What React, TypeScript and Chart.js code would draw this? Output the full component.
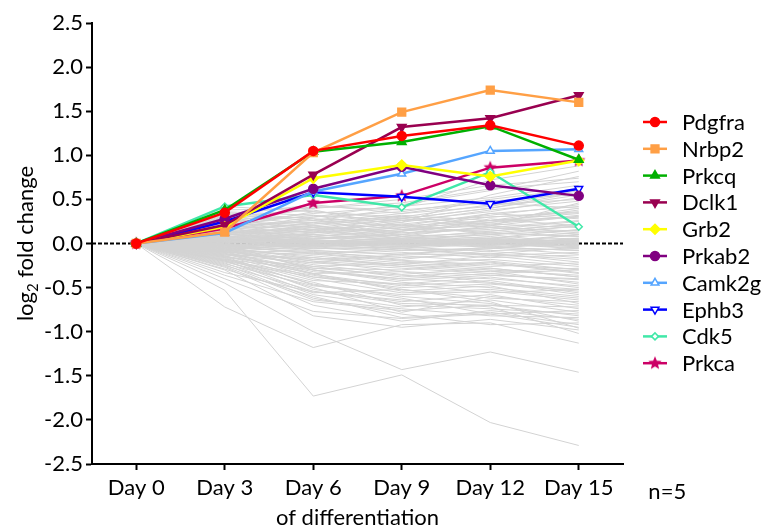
import React, { useEffect, useRef } from 'react';
import { Chart, registerables } from 'chart.js';
import { drawPoint } from 'chart.js/helpers';

Chart.register(...registerables);

const days = ['Day 0', 'Day 3', 'Day 6', 'Day 9', 'Day 12', 'Day 15'];
const geneNames = ['Pdgfra', 'Nrbp2', 'Prkcq', 'Dclk1', 'Grb2', 'Prkab2', 'Camk2g', 'Ephb3', 'Cdk5', 'Prkca'];

const pdgfra = [0, 0.35, 1.05, 1.22, 1.34, 1.11];
const nrbp2 = [0, 0.13, 1.03, 1.49, 1.74, 1.6];
const prkcq = [0, 0.38, 1.04, 1.15, 1.33, 0.95];
const dclk1 = [0, 0.21, 0.78, 1.32, 1.42, 1.68];
const grb2 = [0, 0.19, 0.74, 0.89, 0.76, 0.94];
const prkab2 = [0, 0.28, 0.62, 0.87, 0.66, 0.54];
const camk2g = [0, 0.12, 0.59, 0.79, 1.05, 1.07];
const ephb3 = [0, 0.25, 0.58, 0.53, 0.45, 0.62];
const cdk5 = [0, 0.42, 0.55, 0.41, 0.81, 0.19];
const prkca = [0, 0.17, 0.46, 0.54, 0.86, 0.94];

const backgroundGenes: number[][] = [
  [0, -0.53, -1.73, -1.49, -2.03, -2.29],
  [0, -0.72, -1.18, -0.92, -0.9, -1.13],
  [0, -0.45, -1.0, -1.43, -1.23, -1.46],
  [0, -0.4, -0.77, -0.85, -0.8, -0.95],
  [0, -0.33, -0.55, -0.64, -0.72, -1.02],
  [0, -0.3, -0.82, -0.95, -0.86, -0.98],
  [0, -0.27, -0.7, -0.88, -0.76, -0.86],
  [0, -0.24, -0.62, -0.8, -0.92, -0.9],
  [0, -0.22, -0.58, -0.72, -0.64, -0.78],
  [0, -0.2, -0.5, -0.78, -0.6, -0.7],
  [0, -0.18, -0.46, -0.6, -0.68, -0.88],
  [0, -0.26, -0.64, -0.74, -0.82, -0.84],
  [0, -0.16, -0.52, -0.66, -0.58, -0.74],
  [0, -0.21, -0.44, -0.7, -0.74, -0.8],
  [0, -0.14, -0.4, -0.56, -0.52, -0.62],
  [0, -0.19, -0.36, -0.52, -0.62, -0.66],
  [0, -0.12, -0.35, -0.48, -0.42, -0.56],
  [0, -0.1, -0.3, -0.44, -0.5, -0.6],
  [0, -0.17, -0.42, -0.46, -0.38, -0.5],
  [0, -0.08, -0.26, -0.38, -0.31, -0.46],
  [0, -0.06, -0.2, -0.32, -0.36, -0.41],
  [0, -0.11, -0.32, -0.4, -0.45, -0.52],
  [0, -0.05, -0.16, -0.26, -0.21, -0.33],
  [0, -0.03, -0.11, -0.19, -0.24, -0.29],
  [0, -0.09, -0.24, -0.35, -0.28, -0.38],
  [0, -0.02, -0.08, -0.13, -0.11, -0.21],
  [0, 0.0, -0.05, -0.1, -0.16, -0.13],
  [0, -0.13, -0.22, -0.28, -0.34, -0.44],
  [0, -0.07, -0.14, -0.22, -0.18, -0.26],
  [0, -0.04, -0.18, -0.24, -0.3, -0.36],
  [0, -0.15, -0.28, -0.36, -0.4, -0.48],
  [0, -0.01, -0.04, -0.08, -0.05, -0.12],
  [0, -0.1, -0.12, -0.2, -0.26, -0.22],
  [0, -0.06, -0.28, -0.3, -0.22, -0.34],
  [0, -0.12, -0.18, -0.14, -0.2, -0.3],
  [0, -0.08, -0.1, -0.16, -0.12, -0.18],
  [0, -0.18, -0.3, -0.42, -0.36, -0.4],
  [0, -0.04, -0.06, -0.04, -0.09, -0.16],
  [0, -0.14, -0.34, -0.32, -0.44, -0.58],
  [0, -0.02, -0.12, -0.06, -0.14, -0.1],
  [0, -0.2, -0.38, -0.5, -0.46, -0.54],
  [0, -0.09, -0.2, -0.26, -0.32, -0.28],
  [0, -0.05, -0.09, -0.18, -0.08, -0.06],
  [0, -0.16, -0.26, -0.22, -0.28, -0.38],
  [0, -0.11, -0.38, -0.46, -0.56, -0.52],
  [0, -0.23, -0.48, -0.58, -0.54, -0.64],
  [0, -0.07, -0.22, -0.12, -0.04, -0.08],
  [0, -0.13, -0.16, -0.24, -0.14, -0.24],
  [0, -0.03, -0.02, -0.06, -0.12, -0.04],
  [0, -0.25, -0.54, -0.68, -0.7, -0.72],
  [0, -0.29, -0.6, -0.84, -0.78, -0.92],
  [0, -0.15, -0.47, -0.62, -0.8, -0.76],
  [0, -0.09, -0.34, -0.54, -0.48, -0.68],
  [0, -0.36, -0.66, -0.76, -0.7, -0.82],
  [0, -0.01, -0.3, -0.4, -0.34, -0.3],
  [0, -0.19, -0.56, -0.52, -0.66, -0.96],
  [0, 0.42, 0.36, 0.3, 0.44, 0.5],
  [0, 0.38, 0.4, 0.46, 0.62, 0.7],
  [0, 0.33, 0.26, 0.4, 0.72, 0.88],
  [0, 0.3, 0.38, 0.2, 0.34, 0.42],
  [0, 0.27, 0.3, 0.36, 0.5, 0.62],
  [0, 0.24, 0.18, 0.28, 0.4, 0.55],
  [0, 0.21, 0.32, 0.16, 0.26, 0.3],
  [0, 0.18, 0.12, 0.24, 0.55, 0.76],
  [0, 0.16, 0.22, 0.31, 0.2, 0.46],
  [0, 0.13, 0.1, 0.18, 0.3, 0.35],
  [0, 0.11, 0.2, 0.12, 0.16, 0.25],
  [0, 0.08, 0.05, 0.1, 0.28, 0.2],
  [0, 0.06, 0.15, 0.22, 0.1, 0.15],
  [0, 0.03, 0.0, 0.08, 0.2, 0.31],
  [0, 0.02, 0.1, 0.05, 0.0, 0.1],
  [0, 0.35, 0.28, 0.24, 0.38, 0.48],
  [0, 0.26, 0.42, 0.38, 0.46, 0.4],
  [0, 0.22, 0.08, 0.14, 0.22, 0.18],
  [0, 0.19, 0.26, 0.2, 0.12, 0.08],
  [0, 0.14, 0.04, 0.0, 0.06, 0.12],
  [0, 0.1, 0.14, 0.26, 0.36, 0.52],
  [0, 0.07, 0.18, 0.14, 0.24, 0.38],
  [0, 0.05, 0.02, -0.02, 0.04, 0.06],
  [0, 0.04, 0.08, 0.16, 0.14, 0.22],
  [0, 0.12, 0.24, 0.34, 0.42, 0.6],
  [0, 0.28, 0.2, 0.1, 0.18, 0.26],
  [0, 0.17, 0.06, 0.04, -0.02, 0.02],
  [0, 0.09, -0.04, 0.02, 0.08, -0.02],
  [0, 0.23, 0.34, 0.42, 0.52, 0.66],
  [0, 0.31, 0.22, 0.32, 0.26, 0.34],
  [0, 0.01, 0.06, 0.12, 0.18, 0.14],
  [0, 0.15, 0.28, 0.08, 0.12, 0.2],
  [0, 0.2, 0.16, 0.22, 0.32, 0.44],
  [0, 0.06, -0.06, -0.04, 0.02, 0.04],
  [0, 0.11, 0.02, 0.06, 0.1, 0.0],
  [0, 0.25, 0.12, 0.18, 0.24, 0.3],
  [0, 0.36, 0.32, 0.26, 0.3, 0.36],
  [0, 0.04, 0.12, 0.2, 0.26, 0.4],
  [0, 0.18, 0.36, 0.28, 0.4, 0.58],
  [0, 0.13, 0.0, -0.08, -0.06, 0.04],
  [0, 0.08, 0.1, 0.04, -0.04, -0.08],
  [0, 0.29, 0.14, 0.06, 0.14, 0.22],
  [0, 0.03, 0.04, 0.02, 0.12, 0.08],
  [0, 0.21, 0.24, 0.16, 0.2, 0.12],
  [0, 0.16, 0.3, 0.44, 0.6, 0.82],
  [0, 0.1, 0.06, 0.1, 0.06, 0.16],
  [0, 0.07, 0.0, 0.14, 0.34, 0.28],
  [0, 0.32, 0.44, 0.34, 0.48, 0.56],
  [0, 0.19, 0.02, -0.06, 0.0, -0.06],
  [0, 0.02, -0.02, 0.04, 0.1, 0.2],
  [0, 0.14, 0.16, 0.28, 0.18, 0.1],
  [0, 0.24, 0.4, 0.5, 0.66, 0.74],
  [0, 0.05, -0.08, -0.12, -0.06, 0.02],
  [0, 0.27, 0.18, 0.08, 0.02, 0.1],
  [0, 0.12, 0.16, 0.06, 0.04, -0.04],
  [0, 0.09, 0.2, 0.3, 0.22, 0.32],
  [0, 0.04, 0.01, -0.01, 0.03, -0.03],
  [0, -0.03, 0.02, 0.01, -0.02, 0.03],
  [0, 0.06, -0.01, 0.03, -0.01, 0.01],
  [0, -0.05, 0.03, -0.02, 0.02, -0.01],
  [0, 0.02, -0.03, 0.0, 0.04, 0.02],
  [0, -0.01, 0.01, 0.03, -0.03, -0.02],
  [0, 0.08, 0.03, -0.01, 0.01, 0.05],
  [0, -0.07, -0.01, 0.02, 0.0, -0.05],
  [0, 0.01, -0.02, -0.03, 0.02, 0.0],
  [0, 0.05, 0.04, 0.01, -0.02, 0.03],
  [0, -0.04, 0.0, 0.02, 0.05, -0.01],
  [0, 0.03, 0.02, -0.04, 0.0, -0.02],
  [0, -0.02, -0.04, 0.01, 0.03, 0.01],
  [0, 0.07, 0.01, 0.04, 0.02, -0.04],
  [0, -0.06, 0.02, -0.01, -0.04, 0.02],
  [0, 0.0, 0.03, 0.02, 0.01, 0.04],
  [0, 0.15, 0.08, 0.02, -0.01, 0.06],
  [0, -0.1, -0.02, 0.01, 0.04, 0.0],
  [0, 0.12, -0.01, -0.03, 0.02, -0.01],
  [0, -0.08, 0.01, 0.03, 0.06, 0.02],
];

const FONT = 'Lato, "Open Sans", sans-serif';
const FONT_SIZE = 22;

function makeStar(color: string, r: number): HTMLCanvasElement {
  const c = document.createElement('canvas');
  const s = Math.ceil(r * 2 + 2);
  c.width = s;
  c.height = s;
  const g = c.getContext('2d')!;
  g.fillStyle = color;
  g.beginPath();
  for (let i = 0; i < 10; i++) {
    const rad = i % 2 === 0 ? r : r * 0.45;
    const a = -Math.PI / 2 + (i * Math.PI) / 5;
    const x = s / 2 + rad * Math.cos(a);
    const y = s / 2 + rad * Math.sin(a);
    if (i === 0) g.moveTo(x, y);
    else g.lineTo(x, y);
  }
  g.closePath();
  g.fill();
  return c;
}

export default function App() {
  const ref = useRef<HTMLCanvasElement | null>(null);

  useEffect(() => {
    const star = makeStar('#cc0066', 7);
    const styles = [
      { data: pdgfra, color: '#ff0000', point: 'circle', rot: 0, r: 4.5, fill: '#ff0000' },
      { data: nrbp2, color: '#ff9f45', point: 'rect', rot: 0, r: 5.5, fill: '#ff9f45' },
      { data: prkcq, color: '#00b000', point: 'triangle', rot: 0, r: 5, fill: '#00b000' },
      { data: dclk1, color: '#990050', point: 'triangle', rot: 180, r: 5, fill: '#990050' },
      { data: grb2, color: '#ffff00', point: 'rectRot', rot: 0, r: 5, fill: '#ffff00' },
      { data: prkab2, color: '#800080', point: 'circle', rot: 0, r: 4.5, fill: '#800080' },
      { data: camk2g, color: '#55a5ff', point: 'triangle', rot: 0, r: 4.5, fill: '#ffffff' },
      { data: ephb3, color: '#0000ff', point: 'triangle', rot: 180, r: 4.5, fill: '#ffffff' },
      { data: cdk5, color: '#40e8a8', point: 'rectRot', rot: 0, r: 3.5, fill: '#ffffff' },
      { data: prkca, color: '#cc0066', point: star as any, rot: 0, r: 6, fill: '#cc0066' },
    ];

    const highlightSets = styles.map((s, i) => ({
      label: geneNames[i],
      data: s.data,
      borderColor: s.color,
      backgroundColor: s.fill,
      borderWidth: 2.5,
      pointStyle: s.point,
      pointRotation: s.rot,
      pointRadius: s.r,
      pointBorderWidth: 1.5,
      pointBorderColor: s.color,
      pointBackgroundColor: s.fill,
      tension: 0,
    }));

    const greySets = backgroundGenes.map((d, i) => ({
      label: 'bg' + i,
      data: d,
      borderColor: '#d3d3d3',
      borderWidth: 1,
      pointRadius: 0,
      tension: 0,
    }));

    const overlay = {
      id: 'overlay',
      beforeDatasetsDraw(chart: any) {
        const { ctx, chartArea } = chart;
        const y0 = chart.scales.y.getPixelForValue(0);
        ctx.save();
        ctx.strokeStyle = '#000';
        ctx.lineWidth = 2;
        ctx.setLineDash([4, 2]);
        ctx.beginPath();
        ctx.moveTo(chartArea.left, y0);
        ctx.lineTo(chartArea.right, y0);
        ctx.stroke();
        ctx.restore();
      },
      afterDraw(chart: any) {
        const { ctx, chartArea } = chart;
        ctx.save();
        ctx.fillStyle = '#000';
        ctx.font = `${FONT_SIZE}px ${FONT}`;
        styles.forEach((s, i) => {
          const y = 122 + i * 26.8;
          ctx.strokeStyle = s.color;
          ctx.lineWidth = 2.5;
          ctx.setLineDash([]);
          ctx.beginPath();
          ctx.moveTo(643, y);
          ctx.lineTo(667, y);
          ctx.stroke();
          ctx.fillStyle = s.fill;
          ctx.strokeStyle = s.color;
          ctx.lineWidth = 1.5;
          drawPoint(ctx, { pointStyle: s.point, rotation: s.rot, radius: s.r, borderWidth: 1.5 }, 655, y);
          ctx.fillStyle = '#000';
          ctx.textAlign = 'left';
          ctx.textBaseline = 'middle';
          ctx.fillText(geneNames[i], 682, y + 1);
        });
        const xs = chart.scales.x;
        const step = xs.getPixelForValue(1) - xs.getPixelForValue(0);
        ctx.textAlign = 'center';
        ctx.textBaseline = 'middle';
        ctx.fillText('n=5', xs.getPixelForValue(5) + step, 492);
        ctx.fillText('of differentiation', (chartArea.left + chartArea.right) / 2, 518);
        const cy = (chartArea.top + chartArea.bottom) / 2;
        ctx.translate(25, cy);
        ctx.rotate(-Math.PI / 2);
        const big = `${FONT_SIZE}px ${FONT}`;
        const small = `${Math.round(FONT_SIZE * 0.68)}px ${FONT}`;
        ctx.font = big;
        const w1 = ctx.measureText('log').width;
        const w3 = ctx.measureText(' fold change').width;
        ctx.font = small;
        const w2 = ctx.measureText('2').width;
        const total = w1 + w2 + w3;
        let x = -total / 2;
        ctx.textAlign = 'left';
        ctx.textBaseline = 'alphabetic';
        ctx.font = big;
        ctx.fillText('log', x, 8);
        x += w1;
        ctx.font = small;
        ctx.fillText('2', x, 13);
        x += w2;
        ctx.font = big;
        ctx.fillText(' fold change', x, 8);
        ctx.restore();
      },
    };

    const chart = new Chart(ref.current!, {
      type: 'line',
      data: { labels: days, datasets: [...highlightSets, ...greySets] as any },
      options: {
        responsive: false,
        animation: false,
        devicePixelRatio: 1,
        layout: { padding: { top: 23, right: 141, left: 0, bottom: 0 } },
        plugins: { legend: { display: false }, tooltip: { enabled: false } },
        scales: {
          x: {
            type: 'category',
            offset: true,
            grid: { drawOnChartArea: false, drawTicks: true, tickLength: 6, tickWidth: 2, tickColor: '#000' },
            border: { display: true, color: '#000', width: 2 },
            ticks: { color: '#000', font: { family: FONT, size: FONT_SIZE }, padding: 5, maxRotation: 0, autoSkip: false },
            afterFit: (s: any) => {
              s.height = 66;
            },
          },
          y: {
            min: -2.5,
            max: 2.5,
            grid: { drawOnChartArea: false, drawTicks: true, tickLength: 6, tickWidth: 2, tickColor: '#000' },
            border: { display: true, color: '#000', width: 2 },
            ticks: {
              stepSize: 0.5,
              color: '#000',
              font: { family: FONT, size: FONT_SIZE },
              padding: 3,
              callback: (v: any) => Number(v).toFixed(1),
            },
            afterFit: (s: any) => {
              s.width = 92;
            },
          },
        },
      } as any,
      plugins: [overlay],
    });
    return () => chart.destroy();
  }, []);

  return (
    <div style={{ position: 'fixed', left: 0, top: 0, width: 764, height: 530, background: '#fff' }}>
      <canvas ref={ref} width={764} height={530} style={{ width: 764, height: 530 }} />
    </div>
  );
}
